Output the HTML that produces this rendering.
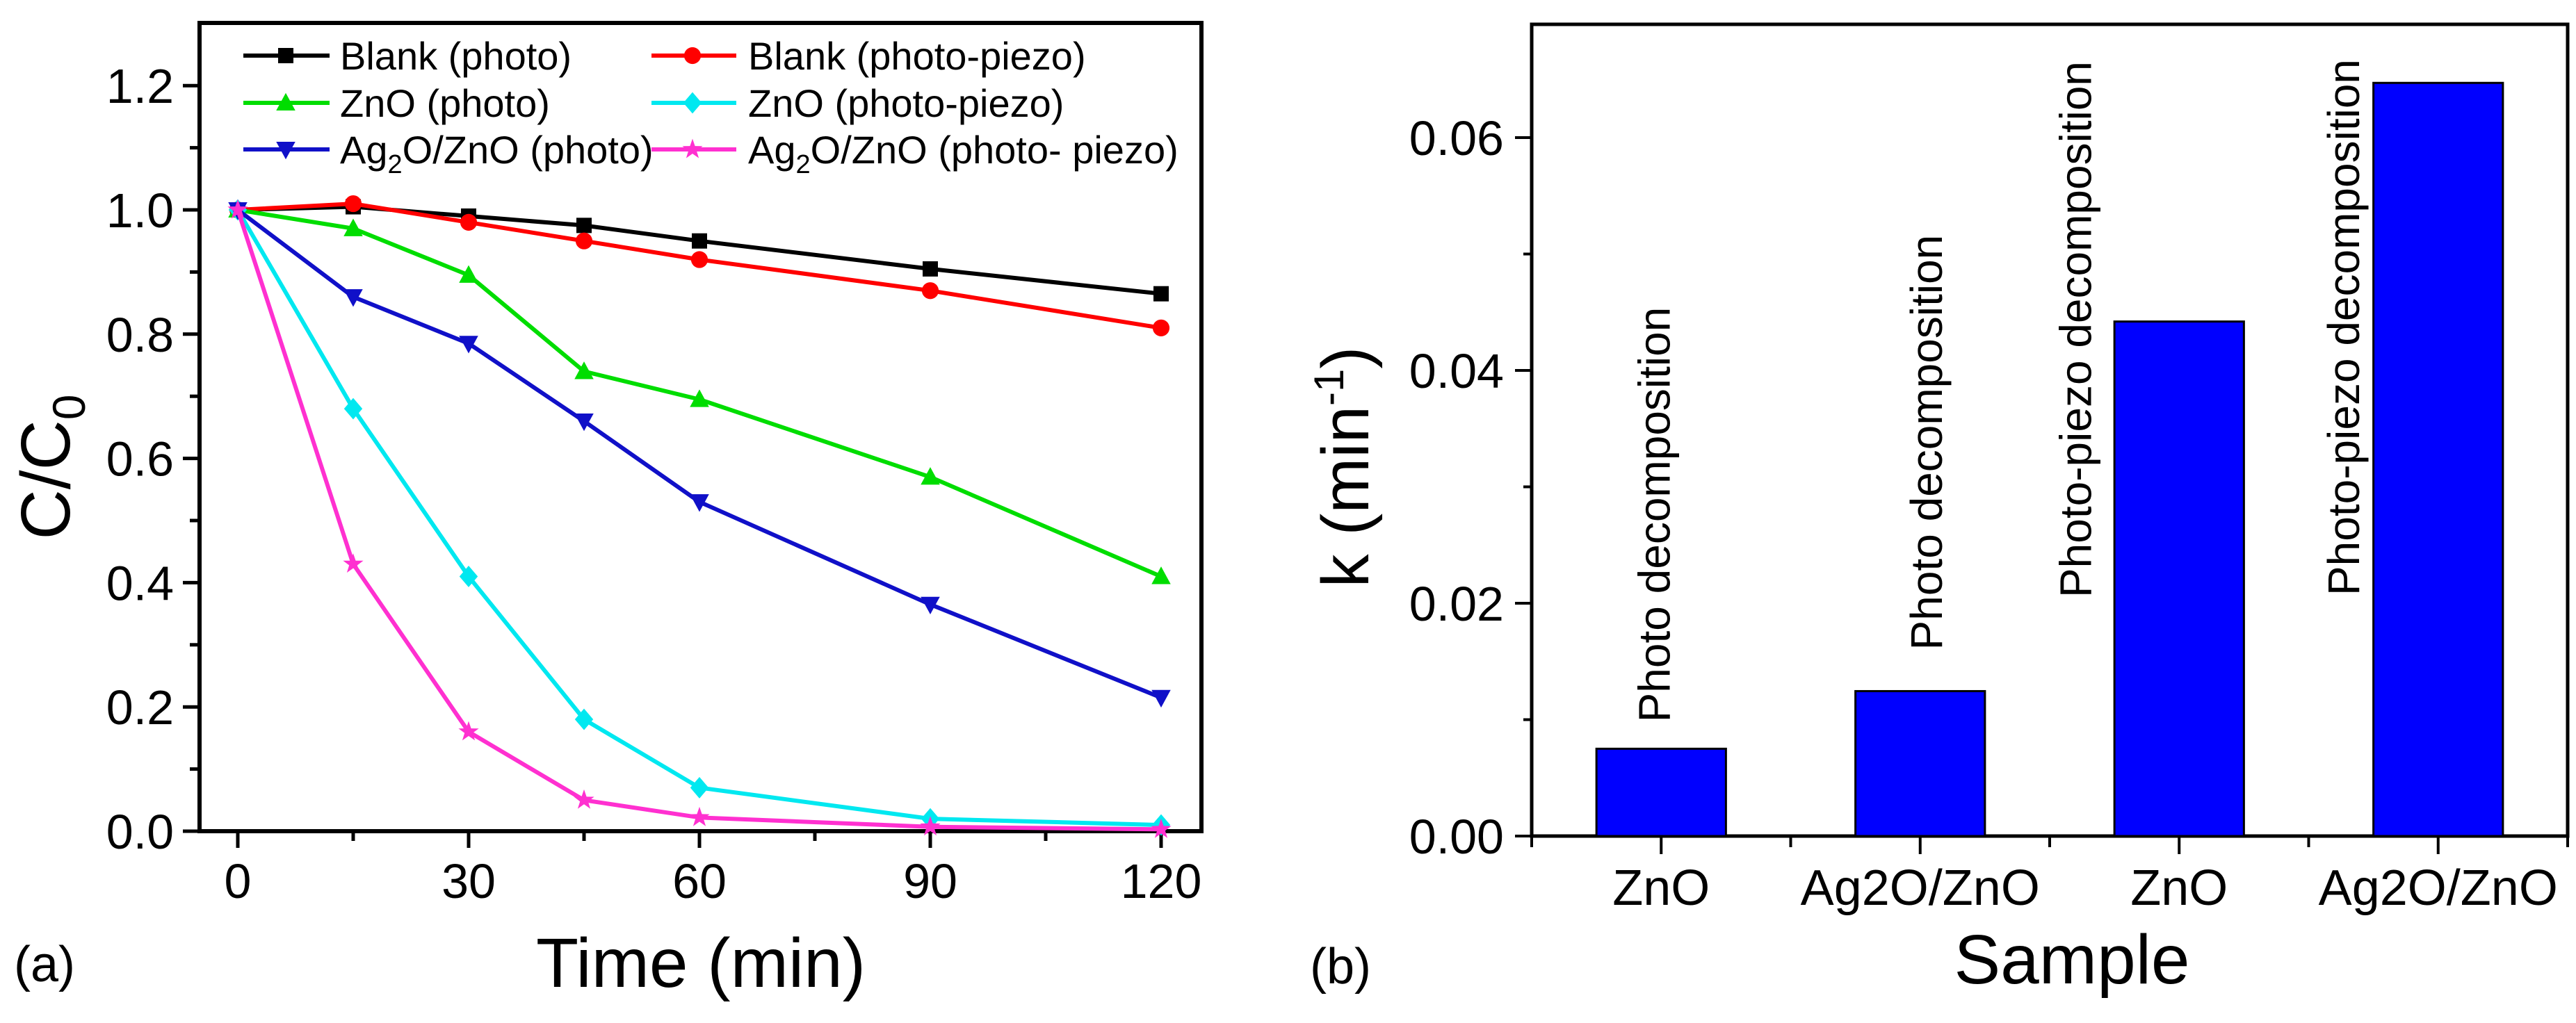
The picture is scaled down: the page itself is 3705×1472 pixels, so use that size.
<!DOCTYPE html>
<html><head><meta charset="utf-8"><style>
html,body{margin:0;padding:0;background:#fff}
svg{display:block;font-family:"Liberation Sans",Arial,sans-serif}
</style></head><body>
<svg id="fig" width="3705" height="1472" viewBox="0 0 3705 1472" xmlns="http://www.w3.org/2000/svg">
<g id="pa"></g>
<g id="pb"></g>
</svg>
<script>
const times=[0,15,30,45,60,90,120];
const blankPhoto=[1,1.005,0.99,0.975,0.95,0.905,0.865];
const blankPiezo=[1,1.01,0.98,0.95,0.92,0.87,0.81];
const znoPhoto=[1,0.97,0.895,0.74,0.695,0.57,0.41];
const znoPiezo=[1,0.68,0.41,0.18,0.07,0.02,0.01];
const agPhoto=[1,0.86,0.785,0.66,0.53,0.365,0.215];
const agPiezo=[1,0.43,0.16,0.05,0.022,0.007,0.003];
const xTicksA=[0,30,60,90,120];
const yTicksA=["0.0","0.2","0.4","0.6","0.8","1.0","1.2"];
const sampleCats=["ZnO","Ag2O/ZnO","ZnO","Ag2O/ZnO"];
const kValues=[0.0075,0.01245,0.0442,0.0647];
const barNotes=["Photo decomposition","Photo decomposition","Photo-piezo decomposition","Photo-piezo decomposition"];
const yTicksB=["0.00","0.02","0.04","0.06"];

const NS="http://www.w3.org/2000/svg";
function mk(p,t,a,txt){const e=document.createElementNS(NS,t);for(const k in a)e.setAttribute(k,a[k]);if(txt!==undefined)e.textContent=txt;p.appendChild(e);return e;}

// Panel A
const pa=document.getElementById('pa');
const AX={l:287,r:1728,t:33,b:1196};
const xA=v=>342+(v-0)*(1670-342)/120;
const yA=v=>1196-v*(1196-302)/1.0;
let e;
e=mk(pa,'rect',{x:AX.l,y:AX.t,width:AX.r-AX.l,height:AX.b-AX.t,fill:'none',stroke:'#000','stroke-width':6});

for(let v=0;v<=120;v+=15){const x=xA(v);const major=v%30===0;
 e=mk(pa,'line',{x1:x,x2:x,y1:AX.b,y2:AX.b+(major?24:14),stroke:'#000','stroke-width':5});
 }
xTicksA.forEach(v=>{e=mk(pa,'text',{x:xA(v),y:1292,'font-size':70,'text-anchor':'middle'},String(v));
 });
for(let i=0;i<=12;i++){const v=i*0.1;const y=yA(v);const major=i%2===0;
 e=mk(pa,'line',{x1:AX.l-(major?24:14),x2:AX.l,y1:y,y2:y,stroke:'#000','stroke-width':5});
 }
yTicksA.forEach(s=>{e=mk(pa,'text',{x:250,y:yA(parseFloat(s))+25,'font-size':70,'text-anchor':'end'},s);
 });
e=mk(pa,'text',{x:1008,y:1420,'font-size':100,'text-anchor':'middle'},'Time (min)');

e=mk(pa,'text',{x:0,y:0,'font-size':100,'text-anchor':'middle',transform:'translate(100,672) rotate(-90)'});

e.innerHTML='C/C<tspan font-size="66" dy="22">0</tspan>';
e=mk(pa,'text',{x:20,y:1412,'font-size':72},'(a)');


function marker(g,type,x,y,c,s){
 let m;
 if(type==='sq')m=mk(g,'rect',{x:x-s,y:y-s,width:2*s,height:2*s,fill:c});
 else if(type==='ci')m=mk(g,'circle',{cx:x,cy:y,r:s*1.1,fill:c});
 else if(type==='up')m=mk(g,'polygon',{points:`${x},${y-s*1.3} ${x-s*1.25},${y+s} ${x+s*1.25},${y+s}`,fill:c});
 else if(type==='dn')m=mk(g,'polygon',{points:`${x},${y+s*1.3} ${x-s*1.25},${y-s} ${x+s*1.25},${y-s}`,fill:c});
 else if(type==='di')m=mk(g,'polygon',{points:`${x},${y-s*1.4} ${x+s*1.2},${y} ${x},${y+s*1.4} ${x-s*1.2},${y}`,fill:c});
 else{let p=[];for(let i=0;i<10;i++){const r=i%2?s*0.55:s*1.4;const a=-Math.PI/2+i*Math.PI/5;p.push((x+r*Math.cos(a)).toFixed(1)+','+(y+r*Math.sin(a)).toFixed(1));}
  m=mk(g,'polygon',{points:p.join(' '),fill:c});}
 return m;
}
const series=[
 {n:'blank-photo',v:blankPhoto,c:'#000000',m:'sq',lab:'Blank (photo)'},
 {n:'blank-photo-piezo',v:blankPiezo,c:'#ff0000',m:'ci',lab:'Blank (photo-piezo)'},
 {n:'zno-photo',v:znoPhoto,c:'#00dd00',m:'up',lab:'ZnO (photo)'},
 {n:'zno-photo-piezo',v:znoPiezo,c:'#00e8f0',m:'di',lab:'ZnO (photo-piezo)'},
 {n:'ag2o-zno-photo',v:agPhoto,c:'#1010c8',m:'dn',lab:'Ag2O/ZnO (photo)'},
 {n:'ag2o-zno-photo-piezo',v:agPiezo,c:'#ff30d0',m:'st',lab:'Ag2O/ZnO (photo- piezo)'}];
series.forEach(s=>{
 const g=mk(pa,'g',{});
 const pts=times.map((t,i)=>xA(t).toFixed(1)+','+yA(s.v[i]).toFixed(1)).join(' ');
 e=mk(g,'polyline',{points:pts,fill:'none',stroke:s.c,'stroke-width':6});
 
 times.forEach((t,i)=>{e=marker(g,s.m,xA(t),yA(s.v[i]),s.c,11);
  });
});
// legend
const lg=mk(pa,'g',{});
const rowsY=[80,148,215],colX=[[350,474,411,489],[937,1059,996,1076]];
series.forEach((s,i)=>{const r=Math.floor(i/2),c=i%2;const y=rowsY[r];const [x1,x2,mx,tx]=colX[c];
 const g=mk(lg,'g',{});
 mk(g,'line',{x1:x1,x2:x2,y1:y,y2:y,stroke:s.c,'stroke-width':6});
 marker(g,s.m,mx,y,s.c,11);
 const t=mk(g,'text',{x:tx,y:y+20,'font-size':56});
 if(s.lab.startsWith('Ag2O')){t.innerHTML='Ag<tspan font-size="38" dy="14">2</tspan><tspan dy="-14">'+s.lab.slice(3)+'</tspan>';}
 else t.textContent=s.lab;
});

// Panel B
const pb=document.getElementById('pb');
const BX={l:2203,r:3693,t:35,b:1203};
const band=(BX.r-BX.l)/sampleCats.length;
const xB=i=>BX.l+band*(i+0.5);
const yB=v=>BX.b-v*(BX.b-198)/0.06;
e=mk(pb,'rect',{x:BX.l,y:BX.t,width:BX.r-BX.l,height:BX.b-BX.t,fill:'none',stroke:'#000','stroke-width':5});

kValues.forEach((v,i)=>{
 e=mk(pb,'rect',{x:xB(i)-band/4,y:yB(v),width:band/2,height:BX.b-yB(v),fill:'#0000ff',stroke:'#000','stroke-width':3});
 
});
const noteX=[-10,9,-149,-136];const noteGap=[38,59,0,0];const noteBottom=[null,null,860,857];
barNotes.forEach((s,i)=>{const x=xB(i)+noteX[i];const yb=noteBottom[i]!==null?noteBottom[i]:yB(kValues[i])-noteGap[i];
 e=mk(pb,'text',{x:0,y:0,'font-size':64,transform:`translate(${x+22},${yb}) rotate(-90)`},s);
 });
for(let i=0;i<=4;i++){const x=BX.l+band*i;
 e=mk(pb,'line',{x1:x,x2:x,y1:BX.b,y2:BX.b+16,stroke:'#000','stroke-width':4});
 }
sampleCats.forEach((s,i)=>{
 e=mk(pb,'line',{x1:xB(i),x2:xB(i),y1:BX.b,y2:BX.b+26,stroke:'#000','stroke-width':4});
 
 e=mk(pb,'text',{x:xB(i),y:1302,'font-size':72,'text-anchor':'middle'},s);
 });
for(let i=0;i<=6;i++){const y=yB(i*0.01);const major=i%2===0;
 e=mk(pb,'line',{x1:BX.l-(major?24:12),x2:BX.l,y1:y,y2:y,stroke:'#000','stroke-width':4});
 }
yTicksB.forEach(s=>{e=mk(pb,'text',{x:2163,y:yB(parseFloat(s))+25,'font-size':70,'text-anchor':'end'},s);
 });
e=mk(pb,'text',{x:2980,y:1415,'font-size':100,'text-anchor':'middle'},'Sample');

e=mk(pb,'text',{x:0,y:0,'font-size':96,'text-anchor':'middle',transform:'translate(1968,672) rotate(-90)'});

e.innerHTML='k (min<tspan font-size="60" dy="-36">-1</tspan><tspan dy="36">)</tspan>';
e=mk(pb,'text',{x:1884,y:1415,'font-size':72},'(b)');

</script>
</body></html>
